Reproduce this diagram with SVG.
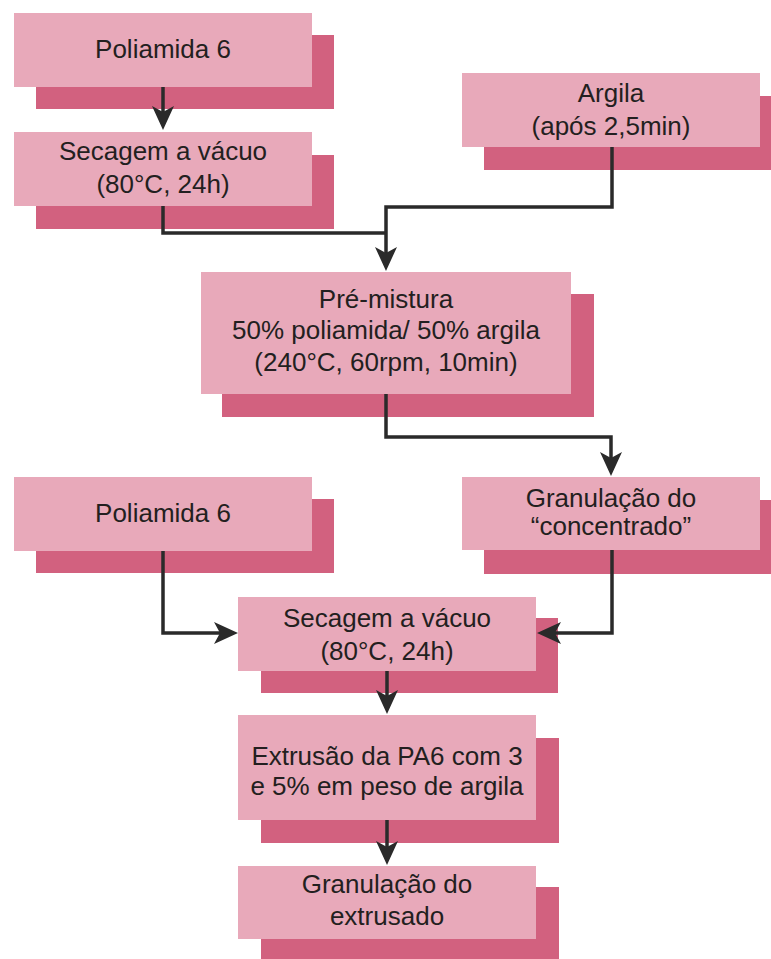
<svg xmlns="http://www.w3.org/2000/svg" width="771" height="959" viewBox="0 0 771 959">
<defs>
<style>
.sh{fill:#D2617F;}
.fr{fill:#E8A9BA;}
.t{font-family:"Liberation Sans",Arial,sans-serif;font-size:26px;fill:#231F20;text-anchor:middle;}
.c{fill:none;stroke:#2A2A2A;stroke-width:3.5;stroke-linejoin:miter;}
</style>
<marker id="ah" viewBox="0 0 24 22" markerWidth="24" markerHeight="22" refX="16" refY="11" orient="auto" markerUnits="userSpaceOnUse">
<path d="M0,0 L24,11 L0,22 L6,11 Z" fill="#2A2A2A"/>
</marker>
</defs>
<rect width="771" height="959" fill="#FFFFFF"/>

<g id="n-poliamida1">
<rect class="sh" x="36" y="35" width="298" height="74"/>
<rect class="fr" x="14" y="13" width="298" height="74"/>
<text class="t" x="163" y="58">Poliamida 6</text>
</g>

<g id="n-secagem1">
<rect class="sh" x="36" y="155" width="298" height="74"/>
<rect class="fr" x="14" y="132" width="298" height="74"/>
<text class="t" x="163" y="160">Secagem a vácuo</text>
<text class="t" x="163" y="193">(80°C, 24h)</text>
</g>

<g id="n-argila">
<rect class="sh" x="484" y="96" width="298" height="74"/>
<rect class="fr" x="462" y="73" width="298" height="74"/>
<text class="t" x="611" y="102">Argila</text>
<text class="t" x="611" y="135">(após 2,5min)</text>
</g>

<g id="n-premistura">
<rect class="sh" x="222" y="294" width="372" height="123"/>
<rect class="fr" x="201" y="272" width="370" height="122"/>
<text class="t" x="386" y="308">Pré-mistura</text>
<text class="t" x="386" y="339">50% poliamida/ 50% argila</text>
<text class="t" x="386" y="371">(240°C, 60rpm, 10min)</text>
</g>

<g id="n-poliamida2">
<rect class="sh" x="36" y="499" width="298" height="74"/>
<rect class="fr" x="14" y="477" width="298" height="74"/>
<text class="t" x="163" y="522">Poliamida 6</text>
</g>

<g id="n-granulacao1">
<rect class="sh" x="484" y="500" width="298" height="74"/>
<rect class="fr" x="462" y="477" width="298" height="73"/>
<text class="t" x="611" y="507">Granulação do</text>
<text class="t" x="611" y="535">“concentrado”</text>
</g>

<g id="n-secagem2">
<rect class="sh" x="261" y="618" width="297" height="75"/>
<rect class="fr" x="238" y="597" width="298" height="74"/>
<text class="t" x="387" y="627">Secagem a vácuo</text>
<text class="t" x="387" y="660">(80°C, 24h)</text>
</g>

<g id="n-extrusao">
<rect class="sh" x="261" y="738" width="298" height="105"/>
<rect class="fr" x="238" y="715" width="298" height="105"/>
<text class="t" x="387" y="765">Extrusão da PA6 com 3</text>
<text class="t" x="387" y="795">e 5% em peso de argila</text>
</g>

<g id="n-granulacao2">
<rect class="sh" x="261" y="887" width="298" height="74"/>
<rect class="fr" x="238" y="866" width="298" height="73"/>
<text class="t" x="387" y="893">Granulação do</text>
<text class="t" x="387" y="925">extrusado</text>
</g>

<g id="connectors">
<path class="c" d="M163,87 V122" marker-end="url(#ah)"/>
<path class="c" d="M163,206 V233 H386" />
<path class="c" d="M612,147 V207 H386 V263" marker-end="url(#ah)"/>
<path class="c" d="M386,394 V437 H611 V468" marker-end="url(#ah)"/>
<path class="c" d="M163,551 V633 H230" marker-end="url(#ah)"/>
<path class="c" d="M612,550 V633 H545" marker-end="url(#ah)"/>
<path class="c" d="M387,671 V706" marker-end="url(#ah)"/>
<path class="c" d="M387,820 V857" marker-end="url(#ah)"/>
</g>
</svg>
